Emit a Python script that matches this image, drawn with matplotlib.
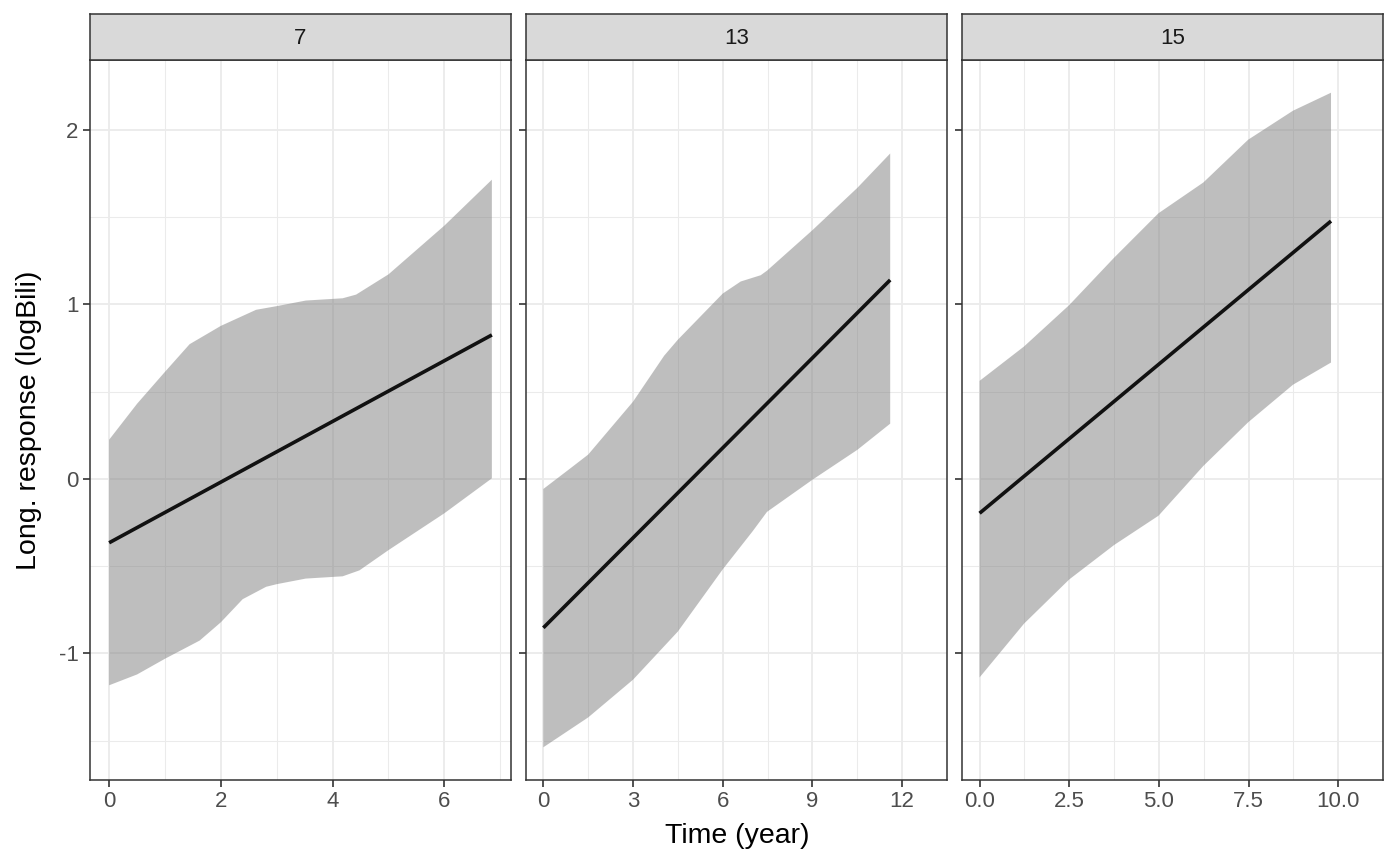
import matplotlib
matplotlib.use("Agg")
import matplotlib.pyplot as plt

plt.rcParams['font.family'] = ['Liberation Sans', 'DejaVu Sans']
plt.rcParams['axes.unicode_minus'] = False

# facet labels
panels = ['7', '13', '15']

# fitted line (start / end) per panel
line_x = [[0, 6.85], [0, 11.6], [0, 9.8]]
line_y = [[-0.366, 0.824], [-0.853, 1.139], [-0.197, 1.476]]

# ribbon upper bound
up_x = [
    [0, 0.5, 1, 1.44, 2, 2.63, 3, 3.52, 4.18, 4.42, 5, 6, 6.85],
    [0, 0.91, 1.5, 3, 4.04, 4.5, 6, 6.6, 7.27, 7.48, 9, 10.5, 11.6],
    [0, 1.24, 2.5, 3.75, 4.99, 6.24, 7.49, 8.74, 9.8],
]
up_y = [
    [0.224, 0.43, 0.613, 0.771, 0.876, 0.968, 0.989, 1.021, 1.034, 1.055, 1.171, 1.45, 1.713],
    [-0.058, 0.061, 0.139, 0.442, 0.705, 0.797, 1.061, 1.13, 1.166, 1.192, 1.424, 1.666, 1.863],
    [0.561, 0.758, 0.995, 1.266, 1.521, 1.697, 1.942, 2.108, 2.211],
]

# ribbon lower bound
lo_x = [
    [0, 0.5, 1, 1.62, 2, 2.39, 2.81, 3, 3.52, 4.18, 4.48, 5, 6, 6.85],
    [0, 1.5, 3, 4.5, 6, 7.0, 7.48, 9, 10.5, 11.6],
    [0, 1.24, 2.5, 3.75, 4.99, 6.24, 7.49, 8.74, 9.8],
]
lo_y = [
    [-1.182, -1.12, -1.03, -0.926, -0.821, -0.689, -0.618, -0.603, -0.571, -0.558, -0.524, -0.408, -0.197, 0.003],
    [-1.537, -1.366, -1.15, -0.874, -0.518, -0.3, -0.189, -0.005, 0.166, 0.316],
    [-1.137, -0.829, -0.576, -0.379, -0.211, 0.074, 0.324, 0.539, 0.666],
]

# axis breaks
x_major = [[0, 2, 4, 6], [0, 3, 6, 9, 12], [0, 2.5, 5, 7.5, 10]]
x_labels = [['0', '2', '4', '6'], ['0', '3', '6', '9', '12'], ['0.0', '2.5', '5.0', '7.5', '10.0']]
y_major = [-1, 0, 1, 2]
y_minor = [-1.5, -0.5, 0.5, 1.5]
y_labels = ['-1', '0', '1', '2']

W, H = 1400, 866
fig = plt.figure(figsize=(W / 100, H / 100), dpi=100)

lefts = [90, 526, 962]
pw = 421
top, bottom = 60, 780
strip_top = 14

# y range with 5% expansion over all data
all_y = sum(up_y, []) + sum(lo_y, [])
ymin, ymax = min(all_y), max(all_y)
ypad = (ymax - ymin) * 0.05

for i in range(3):
    ax = fig.add_axes([lefts[i] / W, (H - bottom) / H, pw / W, (bottom - top) / H])
    # ribbon as polygon: upper edge forward, lower edge backward
    px = up_x[i] + lo_x[i][::-1]
    py = up_y[i] + lo_y[i][::-1]
    ax.fill(px, py, color='#7f7f7f', alpha=0.5, linewidth=0, zorder=2)
    ax.plot(line_x[i], line_y[i], color='#111111', lw=2.6, zorder=3, solid_capstyle='butt')

    xmax = line_x[i][1]
    ax.set_xlim(-0.05 * xmax, xmax * 1.05)
    ax.set_ylim(ymin - ypad, ymax + ypad)

    ax.set_xticks(x_major[i])
    ax.set_xticklabels(x_labels[i])
    step = x_major[i][1] - x_major[i][0]
    ax.set_xticks([v + step / 2 for v in x_major[i]], minor=True)
    ax.set_yticks(y_major)
    ax.set_yticks(y_minor, minor=True)
    if i == 0:
        ax.set_yticklabels(y_labels)
    else:
        ax.tick_params(axis='y', which='major', length=0, labelleft=False)

    ax.grid(True, which='major', color='#ebebeb', lw=1.3, zorder=0)
    ax.grid(True, which='minor', color='#ebebeb', lw=0.75, zorder=0)
    ax.set_axisbelow(True)
    ax.tick_params(which='minor', length=0)
    ax.tick_params(which='major', length=5.2, width=1.2, color='#333333',
                   labelsize=16, labelcolor='#4d4d4d', pad=3)
    for s in ax.spines.values():
        s.set_color('#333333')
        s.set_linewidth(1.1)

    # facet strip
    sax = fig.add_axes([lefts[i] / W, (H - top) / H, pw / W, (top - strip_top) / H])
    sax.set_facecolor('#d9d9d9')
    sax.set_xticks([])
    sax.set_yticks([])
    for s in sax.spines.values():
        s.set_color('#333333')
        s.set_linewidth(1.1)
    sax.text(0.5, 0.47, panels[i], ha='center', va='center', fontsize=16,
             color='#1a1a1a', transform=sax.transAxes)

fig.text((90 + 1384) / 2 / W, 1 - 836 / H, 'Time (year)', ha='center', va='center',
         fontsize=20.5, color='black')
fig.text(29 / W, 1 - 420 / H, 'Long. response (logBili)', ha='center', va='center',
         rotation=90, fontsize=20.5, color='black')

fig.savefig('out.png', dpi=100)
